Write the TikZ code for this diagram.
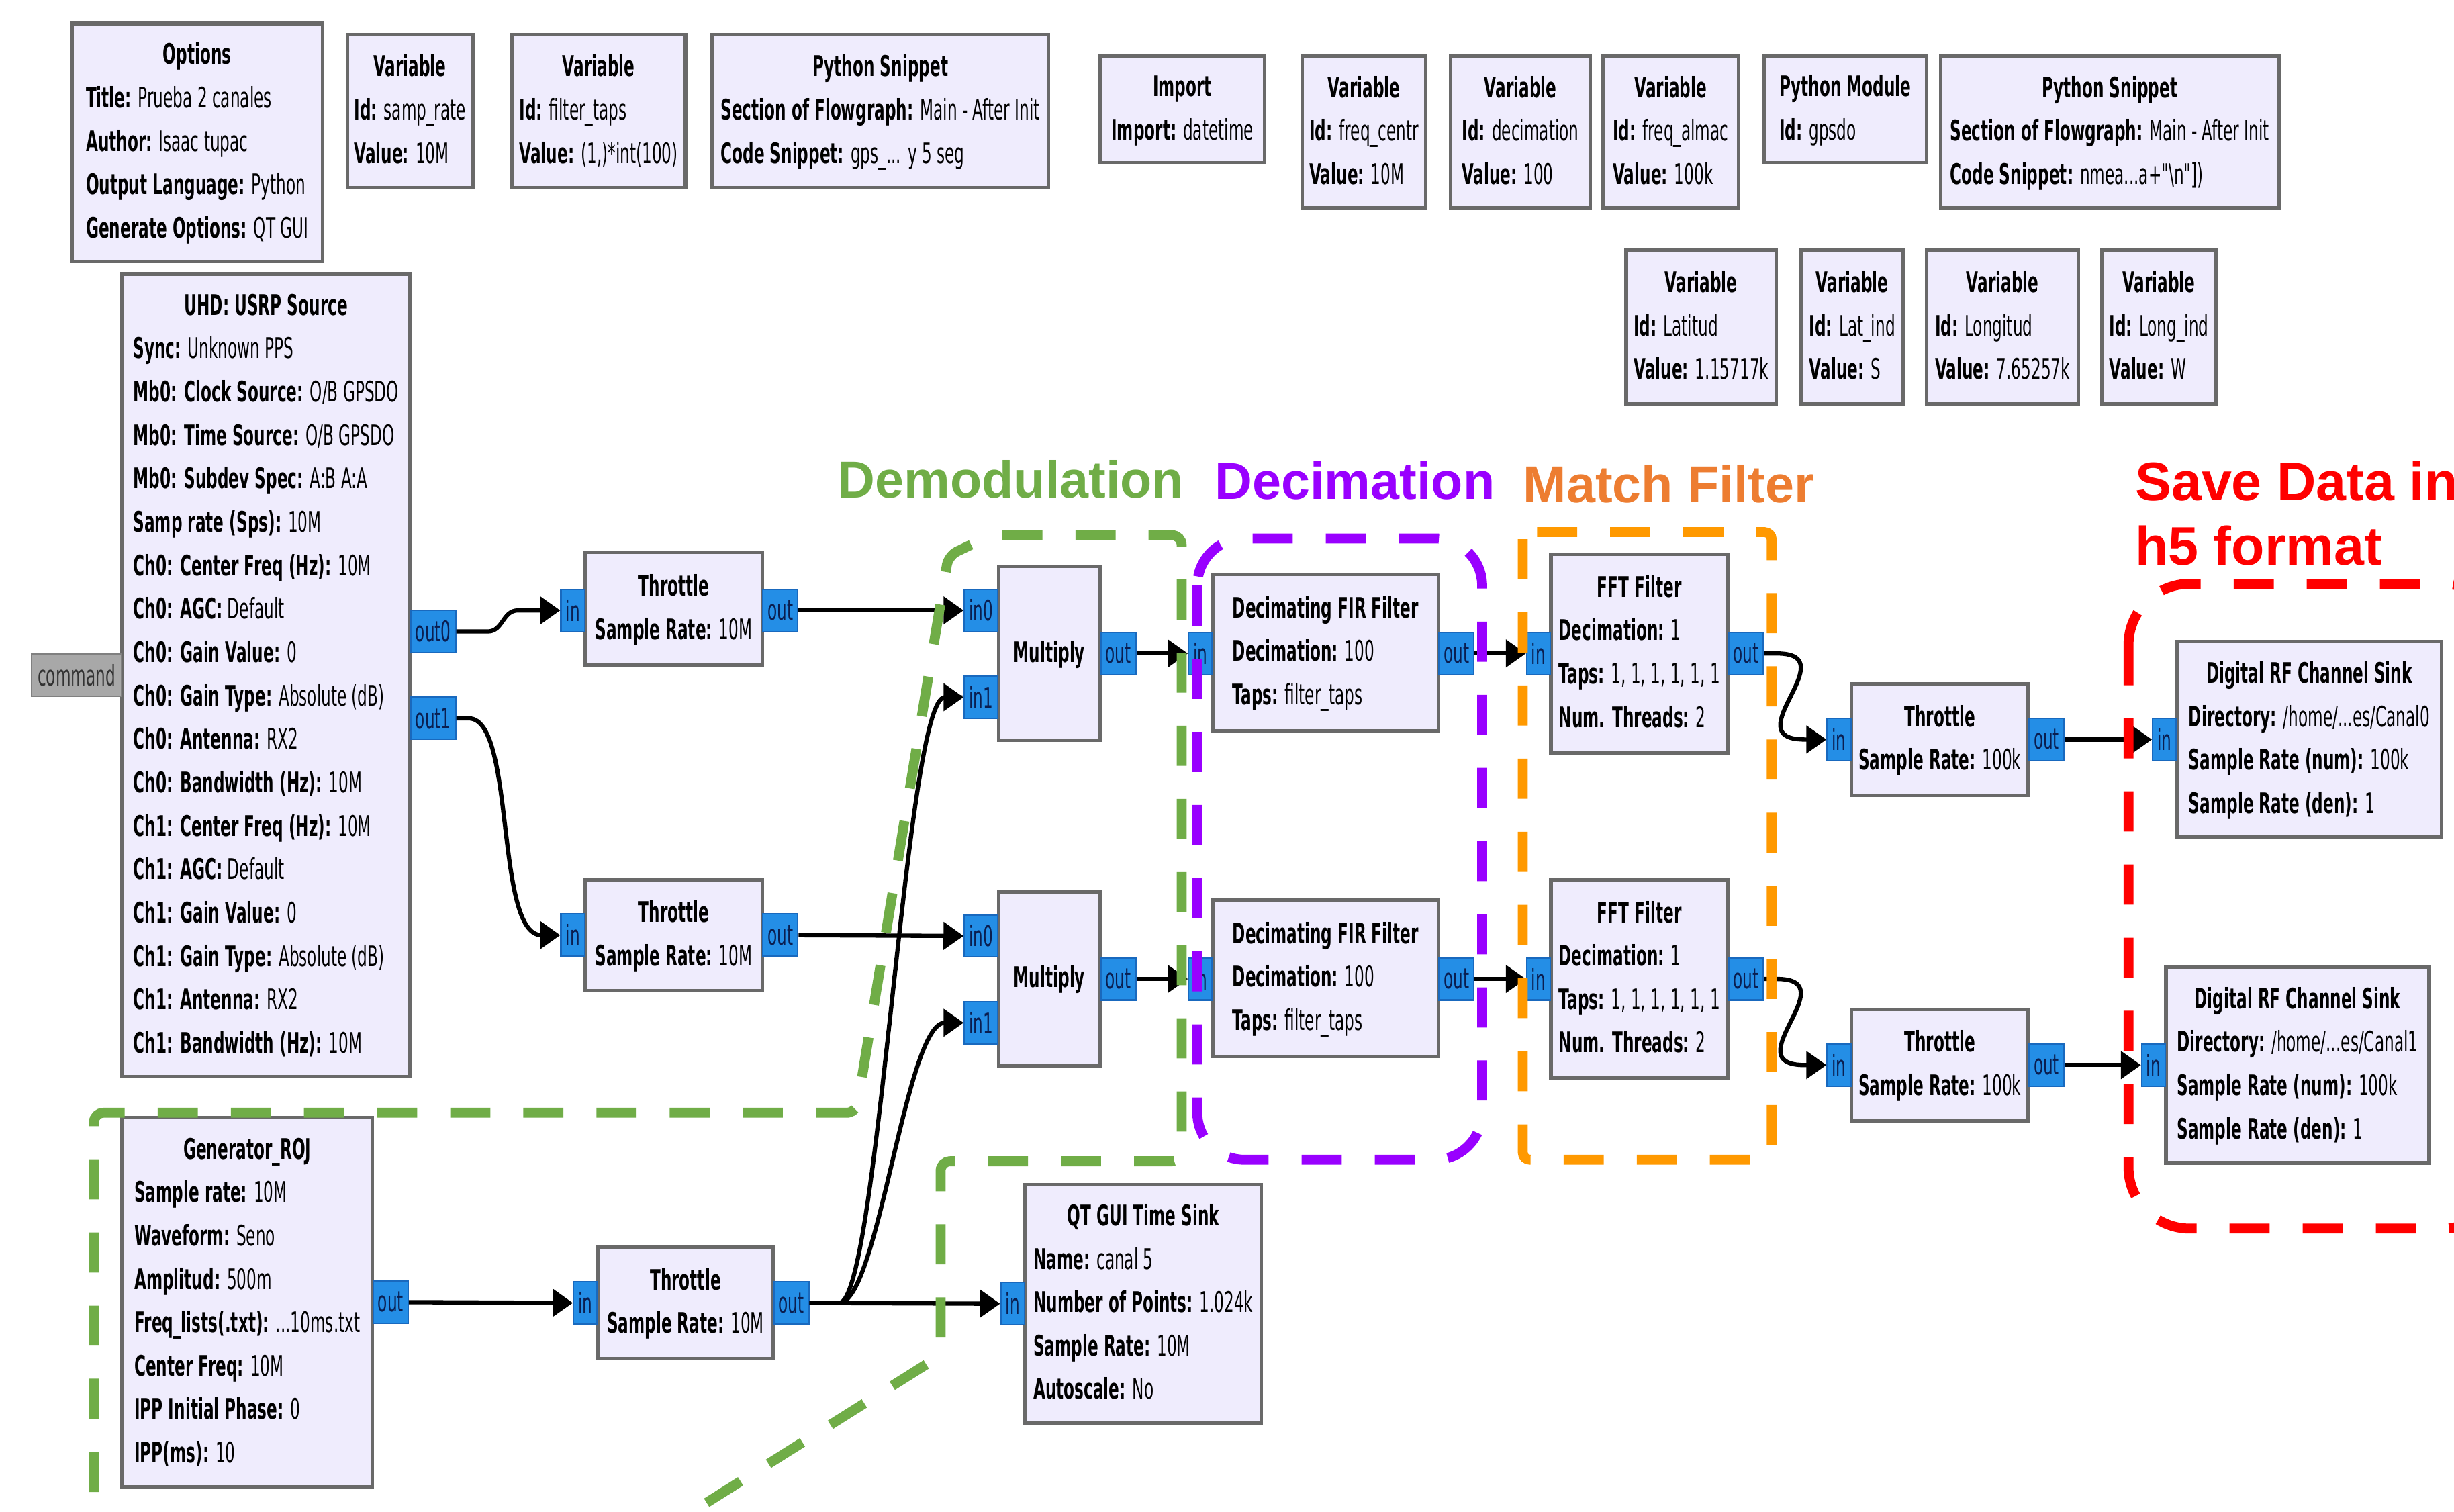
\documentclass[tikz,border=0pt]{standalone}
\usepackage{fontspec}
\newfontfamily\grc[FakeStretch=0.55]{DejaVu Sans}
\newfontfamily\labf{Liberation Sans}
\usetikzlibrary{arrows.meta,calc}
\definecolor{blkfill}{RGB}{239,236,253}
\definecolor{blkdraw}{RGB}{105,105,105}
\definecolor{portfill}{RGB}{36,142,230}
\definecolor{portdraw}{RGB}{25,105,190}
\definecolor{porttext}{RGB}{10,30,80}
\definecolor{cmdfill}{RGB}{168,168,168}
\definecolor{cmddraw}{RGB}{128,128,128}
\definecolor{demgreen}{RGB}{112,173,71}
\definecolor{decpurple}{RGB}{153,0,255}
\definecolor{mforange}{RGB}{255,153,0}
\definecolor{mftext}{RGB}{237,125,49}
\definecolor{savered}{RGB}{255,0,0}
\def\pxu{0.02331cm}
\newcommand\kv[2]{\textbf{#1} #2}
\newcommand\bt[2]{\begin{tabular}{@{}l@{}}\multicolumn{1}{@{}c@{}}{\bfseries #1}#2\end{tabular}}
\newcommand\blk[6]{\node[blockbox, minimum width={(#4-#2)*\pxu}, minimum height={(#5-#3)*\pxu}] (#1) at ({(#2+#4)/2},{(#3+#5)/2}) {#6};}
\newcommand\inport[4]{\node[portbox, anchor=east] (#1) at (#2,#3) {#4};}
\newcommand\outport[4]{\node[portbox, anchor=west] (#1) at (#2,#3) {#4};}
\tikzset{
  blockbox/.style={draw=blkdraw, fill=blkfill, line width=1.5pt, inner sep=0pt,
    font=\grc\fontsize{12}{18.4}\selectfont},
  portbox/.style={draw=portdraw, fill=portfill, line width=0.6pt, inner xsep=2pt, inner ysep=0pt,
    minimum height={27*\pxu}, text=porttext, font=\grc\fontsize{12}{14}\selectfont},
  cmdbox/.style={portbox, draw=cmddraw, fill=cmdfill, text=black!80, inner xsep=2.5pt},
  conn/.style={draw=black, line width=1.8pt, -{Triangle[length=8.5pt,width=11.5pt]}},
  dashbox/.style={line width=4.2pt, dash pattern=on 17pt off 14pt},
  labtxt/.style={font=\labf\bfseries\fontsize{22}{26}\selectfont, inner sep=0pt}
}
\begin{document}
\begin{tikzpicture}[x=0.02331cm, y=-0.02331cm]
\clip (0,0) rectangle (1568,966);
\fill[white] (0,0) rectangle (1568,966);

% ---------- top row ----------
\blk{opt}{46}{15}{206}{167}{\bt{Options}{\\ \kv{Title:}{Prueba 2 canales}\\ \kv{Author:}{Isaac tupac}\\ \kv{Output Language:}{Python}\\ \kv{Generate Options:}{QT GUI}}}
\blk{vsr}{222}{22}{302}{120}{\bt{Variable}{\\ \kv{Id:}{samp\_rate}\\ \kv{Value:}{10M}}}
\blk{vft}{327}{22}{438}{120}{\bt{Variable}{\\ \kv{Id:}{filter\_taps}\\ \kv{Value:}{(1,)*int(100)}}}
\blk{psa}{455}{22}{670}{120}{\bt{Python Snippet}{\\ \kv{Section of Flowgraph:}{Main - After Init}\\ \kv{Code Snippet:}{gps\_... y 5 seg}}}
\blk{imp}{703}{36}{808}{104}{\bt{Import}{\\ \kv{Import:}{datetime}}}
\blk{vfc}{832}{36}{911}{133}{\bt{Variable}{\\ \kv{Id:}{freq\_centr}\\ \kv{Value:}{10M}}}
\blk{vdc}{927}{36}{1016}{133}{\bt{Variable}{\\ \kv{Id:}{decimation}\\ \kv{Value:}{100}}}
\blk{vfa}{1024}{36}{1111}{133}{\bt{Variable}{\\ \kv{Id:}{freq\_almac}\\ \kv{Value:}{100k}}}
\blk{pmd}{1127}{36}{1231}{104}{\bt{Python Module}{\\ \kv{Id:}{gpsdo}}}
\blk{psb}{1240}{36}{1456}{133}{\bt{Python Snippet}{\\ \kv{Section of Flowgraph:}{Main - After Init}\\ \kv{Code Snippet:}{nmea...a+"\textbackslash n"])}}}
\blk{vla}{1039}{160}{1135}{258}{\bt{Variable}{\\ \kv{Id:}{Latitud}\\ \kv{Value:}{1.15717k}}}
\blk{vli}{1151}{160}{1216}{258}{\bt{Variable}{\\ \kv{Id:}{Lat\_ind}\\ \kv{Value:}{S}}}
\blk{vlo}{1231}{160}{1328}{258}{\bt{Variable}{\\ \kv{Id:}{Longitud}\\ \kv{Value:}{7.65257k}}}
\blk{vlg}{1343}{160}{1416}{258}{\bt{Variable}{\\ \kv{Id:}{Long\_ind}\\ \kv{Value:}{W}}}

% ---------- flowgraph blocks ----------
\blk{usrp}{78}{175}{262}{688}{\bt{UHD: USRP Source}{\\
 \kv{Sync:}{Unknown PPS}\\
 \kv{Mb0: Clock Source:}{O/B GPSDO}\\
 \kv{Mb0: Time Source:}{O/B GPSDO}\\
 \kv{Mb0: Subdev Spec:}{A:B A:A}\\
 \kv{Samp rate (Sps):}{10M}\\
 \kv{Ch0: Center Freq (Hz):}{10M}\\
 \kv{Ch0: AGC:}{Default}\\
 \kv{Ch0: Gain Value:}{0}\\
 \kv{Ch0: Gain Type:}{Absolute (dB)}\\
 \kv{Ch0: Antenna:}{RX2}\\
 \kv{Ch0: Bandwidth (Hz):}{10M}\\
 \kv{Ch1: Center Freq (Hz):}{10M}\\
 \kv{Ch1: AGC:}{Default}\\
 \kv{Ch1: Gain Value:}{0}\\
 \kv{Ch1: Gain Type:}{Absolute (dB)}\\
 \kv{Ch1: Antenna:}{RX2}\\
 \kv{Ch1: Bandwidth (Hz):}{10M}}}
\blk{thra}{374}{353}{487}{425}{\bt{Throttle}{\\ \kv{Sample Rate:}{10M}}}
\blk{thrb}{374}{562}{487}{633}{\bt{Throttle}{\\ \kv{Sample Rate:}{10M}}}
\blk{mula}{638}{362}{703}{473}{\bt{Multiply}{}}
\blk{mulb}{638}{570}{703}{681}{\bt{Multiply}{}}
\blk{deca}{775}{367}{919}{467}{\bt{Decimating FIR Filter}{\\ \kv{Decimation:}{100}\\ \kv{Taps:}{filter\_taps}}}
\blk{decb}{775}{575}{919}{675}{\bt{Decimating FIR Filter}{\\ \kv{Decimation:}{100}\\ \kv{Taps:}{filter\_taps}}}
\blk{ffta}{991}{354}{1104}{481}{\bt{FFT Filter}{\\ \kv{Decimation:}{1}\\ \kv{Taps:}{1, 1, 1, 1, 1, 1}\\ \kv{Num. Threads:}{2}}}
\blk{fftb}{991}{562}{1104}{689}{\bt{FFT Filter}{\\ \kv{Decimation:}{1}\\ \kv{Taps:}{1, 1, 1, 1, 1, 1}\\ \kv{Num. Threads:}{2}}}
\blk{thrc}{1183}{437}{1296}{508}{\bt{Throttle}{\\ \kv{Sample Rate:}{100k}}}
\blk{thrd}{1183}{645}{1296}{716}{\bt{Throttle}{\\ \kv{Sample Rate:}{100k}}}
\blk{snka}{1391}{410}{1560}{535}{\bt{Digital RF Channel Sink}{\\ \kv{Directory:}{/home/...es/Canal0}\\ \kv{Sample Rate (num):}{100k}\\ \kv{Sample Rate (den):}{1}}}
\blk{snkb}{1384}{618}{1552}{743}{\bt{Digital RF Channel Sink}{\\ \kv{Directory:}{/home/...es/Canal1}\\ \kv{Sample Rate (num):}{100k}\\ \kv{Sample Rate (den):}{1}}}
\blk{gen}{78}{714}{238}{950}{\bt{Generator\_ROJ}{\\ \kv{Sample rate:}{10M}\\ \kv{Waveform:}{Seno}\\ \kv{Amplitud:}{500m}\\ \kv{Freq\_lists(.txt):}{...10ms.txt}\\ \kv{Center Freq:}{10M}\\ \kv{IPP Initial Phase:}{0}\\ \kv{IPP(ms):}{10}}}
\blk{thre}{382}{797}{494}{868}{\bt{Throttle}{\\ \kv{Sample Rate:}{10M}}}
\blk{qts}{655}{757}{806}{909}{\bt{QT GUI Time Sink}{\\ \kv{Name:}{canal 5}\\ \kv{Number of Points:}{1.024k}\\ \kv{Sample Rate:}{10M}\\ \kv{Autoscale:}{No}}}

% ---------- ports ----------
\node[cmdbox, anchor=east] (ucmd) at (78,431.5) {command};
\outport{uo0}{262}{403.5}{out0}
\outport{uo1}{262}{459}{out1}
\inport{tai}{374}{390}{in}   \outport{tao}{487}{390}{out}
\inport{tbi}{374}{597.5}{in} \outport{tbo}{487}{597.5}{out}
\inport{mai0}{638}{390}{in0}   \inport{mai1}{638}{445.5}{in1} \outport{mao}{703}{417.5}{out}
\inport{mbi0}{638}{598}{in0}   \inport{mbi1}{638}{653.5}{in1} \outport{mbo}{703}{625.5}{out}
\inport{dai}{775}{417.5}{in} \outport{dao}{919}{417.5}{out}
\inport{dbi}{775}{625.5}{in} \outport{dbo}{919}{625.5}{out}
\inport{fai}{991}{417.5}{in} \outport{fao}{1104}{417.5}{out}
\inport{fbi}{991}{625.5}{in} \outport{fbo}{1104}{625.5}{out}
\inport{tci}{1183}{472.5}{in} \outport{tco}{1296}{472.5}{out}
\inport{tdi}{1183}{680.5}{in} \outport{tdo}{1296}{680.5}{out}
\inport{sai}{1391}{472.5}{in}
\inport{sbi}{1384}{680.5}{in}
\outport{go}{238}{832}{out}
\inport{tei}{382}{832.5}{in} \outport{teo}{494}{832.5}{out}
\inport{qi}{655}{833}{in}

% ---------- connectors ----------
\draw[conn] (uo0.east) -- ++(20,0) .. controls +(10,0) and +(-10,0) .. ($(tai.west)+(-27,0)$) -- (tai.west);
\draw[conn] (uo1.east) -- ++(8,0) .. controls +(30,0) and +(-30,0) .. ($(tbi.west)+(-12,0)$) -- (tbi.west);
\draw[conn] (tao.east) -- (mai0.west);
\draw[conn] (tbo.east) -- (mbi0.west);
\draw[conn] (mao.east) -- (dai.west);
\draw[conn] (mbo.east) -- (dbi.west);
\draw[conn] (dao.east) -- (fai.west);
\draw[conn] (dbo.east) -- (fbi.west);
\draw[conn] (fao.east) -- ++(8,0) .. controls +(45,0) and +(-45,0) .. ($(tci.west)+(-14,0)$) -- (tci.west);
\draw[conn] (fbo.east) -- ++(8,0) .. controls +(45,0) and +(-45,0) .. ($(tdi.west)+(-14,0)$) -- (tdi.west);
\draw[conn] (tco.east) -- (sai.west);
\draw[conn] (tdo.east) -- (sbi.west);
\draw[conn] (go.east) -- (tei.west);
\draw[conn] (teo.east) -- (qi.west);
\draw[conn] (teo.east) -- ++(19,0) .. controls +(25,0) and +(-25,0) .. ($(mai1.west)+(-12,0)$) -- (mai1.west);
\draw[conn] (teo.east) -- ++(19,0) .. controls +(25,0) and +(-25,0) .. ($(mbi1.west)+(-12,0)$) -- (mbi1.west);

% ---------- dashed regions ----------
\draw[dashbox, demgreen, rounded corners=4pt] (60,1000) -- (60,711) -- (547,711) -- (606,355) -- (633,342) -- (755,342) -- (755,742) -- (601,742) -- (601,866) -- (420,980);
\draw[dashbox, decpurple, rounded corners=20pt] (765,344) rectangle (947,741);
\draw[dashbox, mforange, rounded corners=3pt] (973,340) rectangle (1132,741);
\draw[dashbox, savered, rounded corners=26pt] (1360,373) rectangle (1600,785);

% ---------- labels ----------
\node[labtxt, text=demgreen, anchor=base west] (ldem) at (535,318) {Demodulation};
\node[labtxt, text=decpurple, anchor=base west] (ldec) at (776,319) {Decimation};
\node[labtxt, text=mftext, anchor=base west] (lmf) at (973,321) {Match Filter};
\node[labtxt, text=savered, anchor=base west, font=\labf\bfseries\fontsize{23}{27}\selectfont] (lsa) at (1364,320) {Save Data in};
\node[labtxt, text=savered, anchor=base west, font=\labf\bfseries\fontsize{23}{27}\selectfont] (lsb) at (1364,361) {h5 format};
\end{tikzpicture}
\end{document}
